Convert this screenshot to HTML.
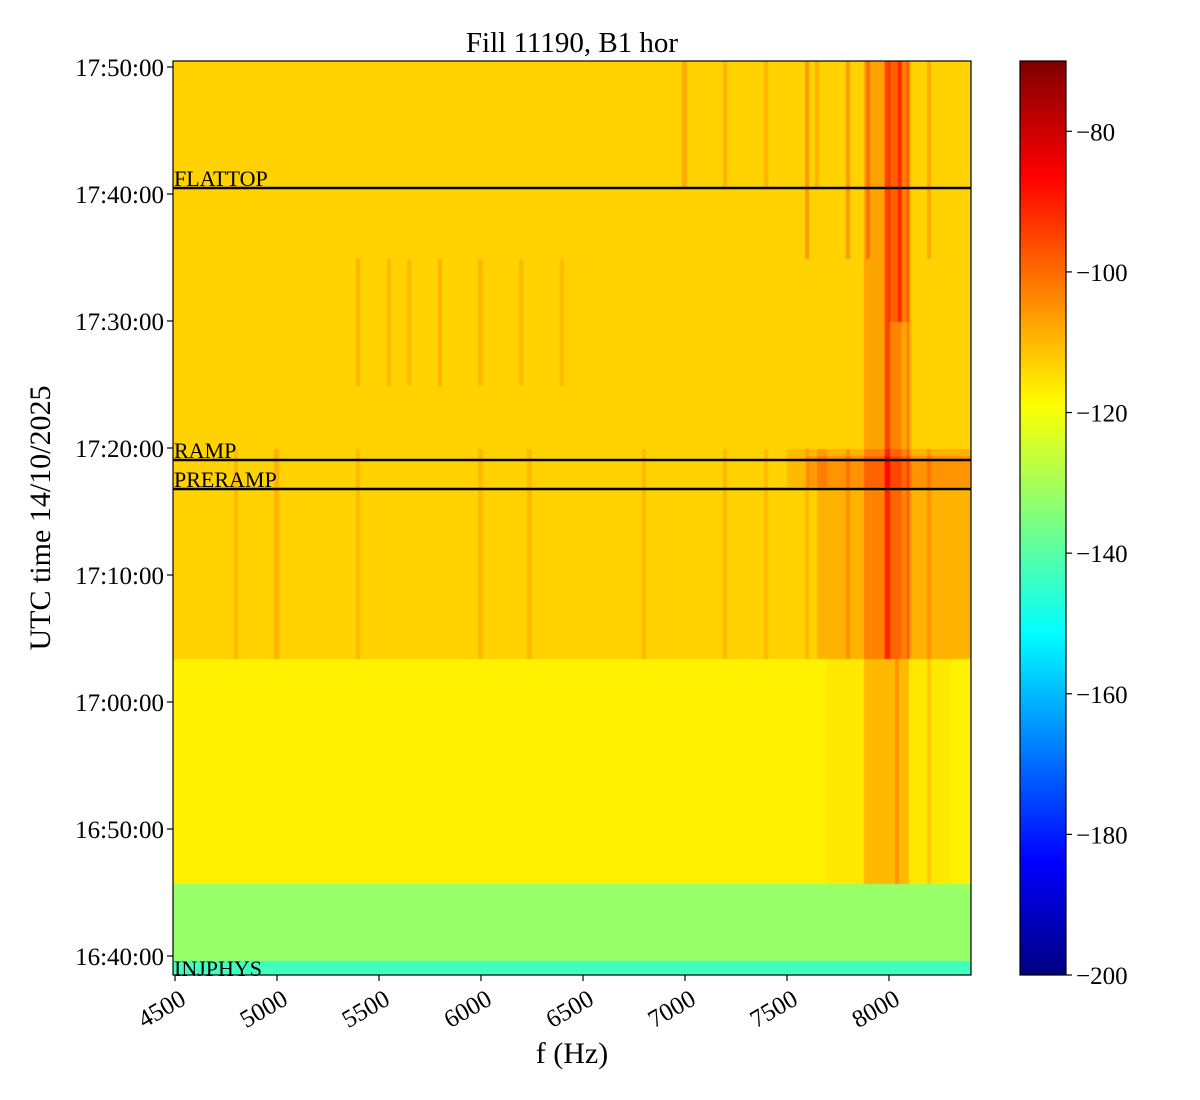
<!DOCTYPE html>
<html><head><meta charset="utf-8"><style>
html,body{margin:0;padding:0;background:#fff;}
#wrap{position:relative;width:1200px;height:1100px;overflow:hidden;}
canvas{position:absolute;}
svg{position:absolute;left:0;top:0;}
text{font-family:"Liberation Serif",serif;fill:#000;}
</style></head><body>
<div id="wrap">
<canvas id="heat" width="798" height="914" style="left:173px;top:61px"></canvas>
<canvas id="cbar" width="46" height="914" style="left:1020px;top:61px"></canvas>
<svg id="svg" width="1200" height="1100"></svg>
</div>
<script>
// ---- data (frequency in Hz, time in minutes after 16:00) ----
const timeBandStart = [38.5, 39.85, 45.8, 63.45];
const timeBandEnd   = [39.85, 45.8, 63.45, 110.5];
const timeBandLevel = [-143, -132, -117, -113];
// hotspots: freq lo, freq hi, time lo, time hi, added dB
const hotFLo = [7880, 7980, 7650, 7600, 8000, 7700, 7500];
const hotFHi = [8100, 8060, 8400, 8400, 8100, 8300, 7700];
const hotTLo = [45.8, 63.45, 63.45, 77, 90, 45.8, 77];
const hotTHi = [110.5, 110.5, 80, 79.5, 110.5, 63.45, 80];
const hotDb  = [6, 4, 4, 4, 5, 1, 3];
// narrow spectral lines
const lineF  = [7000,7200,7400,7600,7650,7800,7900,7995,8055,8100,8200, 5400,5550,5650,5800,6000,6200,6400,
                4800,5000,5400,6000,6240,6800,7200,7400,7600,7800, 8040, 8200];
const lineTLo= [100.5,100.5,100.5,95,100.5,95,95,63.5,90,63.5,95, 85,85,85,85,85,85,85,
                63.5,63.5,63.5,63.5,63.5,63.5,63.5,63.5,63.5,63.5, 45.8, 45.8];
const lineTHi= [110.5,110.5,110.5,110.5,110.5,110.5,110.5,110.5,110.5,110.5,110.5, 95,95,95,95,95,95,95,
                80,80,80,80,80,80,80,80,80,80, 63.5, 80];
const lineDb = [5,4,4,7,4,7,6,8,7,5,5, 4,3,3,4,3,3,3, 3,4,3,3,3,3,3,3,3,4, 5, 4];
// axes
const xTicks = [4500,5000,5500,6000,6500,7000,7500,8000];
const yTickLabels = ["17:50:00","17:40:00","17:30:00","17:20:00","17:10:00","17:00:00","16:50:00","16:40:00"];
const yTickMinAll = [110,100,90,80,70,60,50,40];
const cbTicks = [-80,-100,-120,-140,-160,-180,-200];
const markerT = [100.47, 79.06, 76.77, 38.55];
const markerLabel = ["FLATTOP","RAMP","PRERAMP","INJPHYS"];
const vmin=-200, vmax=-70;
const fMin=4490, fMax=8400, tMin=38.5, tMax=110.47;

const X0=173, X1=971, Y0=61, Y1=975;
const xs = f => 175 + (f-4500)*0.204;
const ys = t => 67 + (110 - t)*12.7;
const cy = v => 975 - (v - vmin)*(914/(vmax-vmin));

function jet(v){
  let t=(v-vmin)/(vmax-vmin); t=Math.max(0,Math.min(1,t));
  const c=x=>Math.round(255*Math.max(0,Math.min(1,x)));
  return [c(1.5-Math.abs(4*t-3)),c(1.5-Math.abs(4*t-2)),c(1.5-Math.abs(4*t-1))];
}
function val(f,t){
  let v=timeBandLevel[timeBandLevel.length-1];
  for(let i=0;i<timeBandStart.length;i++) if(t>=timeBandStart[i]&&t<timeBandEnd[i]) v=timeBandLevel[i];
  for(let i=0;i<hotFLo.length;i++) if(f>=hotFLo[i]&&f<=hotFHi[i]&&t>=hotTLo[i]&&t<=hotTHi[i]) v+=hotDb[i];
  for(let i=0;i<lineF.length;i++) if(Math.abs(f-lineF[i])<=8&&t>=lineTLo[i]&&t<=lineTHi[i]) v+=lineDb[i];
  return v;
}
const hc=document.getElementById('heat').getContext('2d');
const df=5, dt=0.25;
for(let f=fMin; f<fMax; f+=df){
  for(let t=tMin; t<tMax; t+=dt){
    const c=jet(val(f+df/2,t+dt/2));
    hc.fillStyle=`rgb(${c[0]},${c[1]},${c[2]})`;
    const x=xs(f)-X0, y=ys(t+dt)-Y0;
    hc.fillRect(Math.floor(x),Math.floor(y),Math.ceil(xs(f+df)-xs(f))+1,Math.ceil(ys(t)-ys(t+dt))+1);
  }
}
const cc=document.getElementById('cbar').getContext('2d');
for(let y=0;y<914;y++){const v=vmax-(y/914)*(vmax-vmin);const c=jet(v);cc.fillStyle=`rgb(${c[0]},${c[1]},${c[2]})`;cc.fillRect(0,y,46,1);}

const svg=document.getElementById('svg');
const NS='http://www.w3.org/2000/svg';
function mk(tag,attrs,txt){const e=document.createElementNS(NS,tag);for(const k in attrs)e.setAttribute(k,attrs[k]);if(txt!==undefined)e.textContent=txt;svg.appendChild(e);return e;}

for(let i=0;i<markerT.length;i++){
  const y=ys(markerT[i]);
  if(i<3){const l=mk('line',{x1:X0,x2:X1,y1:y,y2:y,stroke:'#000','stroke-width':2.5});
    
    }
  const tx=mk('text',{x:174,y:(i<3?y-2:976),'font-size':22},markerLabel[i]);
  
  
}
const fr=mk('rect',{x:X0,y:Y0,width:X1-X0,height:Y1-Y0,fill:'none',stroke:'#000','stroke-width':1.2});


const cf=mk('rect',{x:1020,y:61,width:46,height:914,fill:'none',stroke:'#000','stroke-width':1.2});


xTicks.forEach(f=>{
  const x=xs(f);
  const tk=mk('line',{x1:x,x2:x,y1:Y1,y2:Y1+6,stroke:'#000','stroke-width':1.2});
  
  
  const tl=mk('text',{x:x+4,y:Y1+14,'font-size':25,'text-anchor':'end',transform:`rotate(-30 ${x+4} ${Y1+14})`,'dominant-baseline':'hanging'},String(f));
  
  
});
yTickMinAll.forEach((t,i)=>{
  const y=ys(t);
  const tk=mk('line',{x1:X0-6,x2:X0,y1:y,y2:y,stroke:'#000','stroke-width':1.2});
  
  
  const tl=mk('text',{x:X0-9,y:y+9,'font-size':25,'text-anchor':'end'},yTickLabels[i]);
  
  
});
cbTicks.forEach(v=>{
  const y=cy(v);
  const tk=mk('line',{x1:1066,x2:1072,y1:y,y2:y,stroke:'#000','stroke-width':1.2});
  
  
  const tl=mk('text',{x:1076,y:y+9,'font-size':25},'\u2212'+Math.abs(v));
  
  
});
const title=mk('text',{x:572,y:52,'font-size':29,'text-anchor':'middle'},'Fill 11190, B1 hor');


const xl=mk('text',{x:572,y:1063,'font-size':30,'text-anchor':'middle'},'f (Hz)');


const yl=mk('text',{x:50,y:518,'font-size':30,'text-anchor':'middle',transform:'rotate(-90 50 518)'},'UTC time 14/10/2025');


</script>
</body></html>
